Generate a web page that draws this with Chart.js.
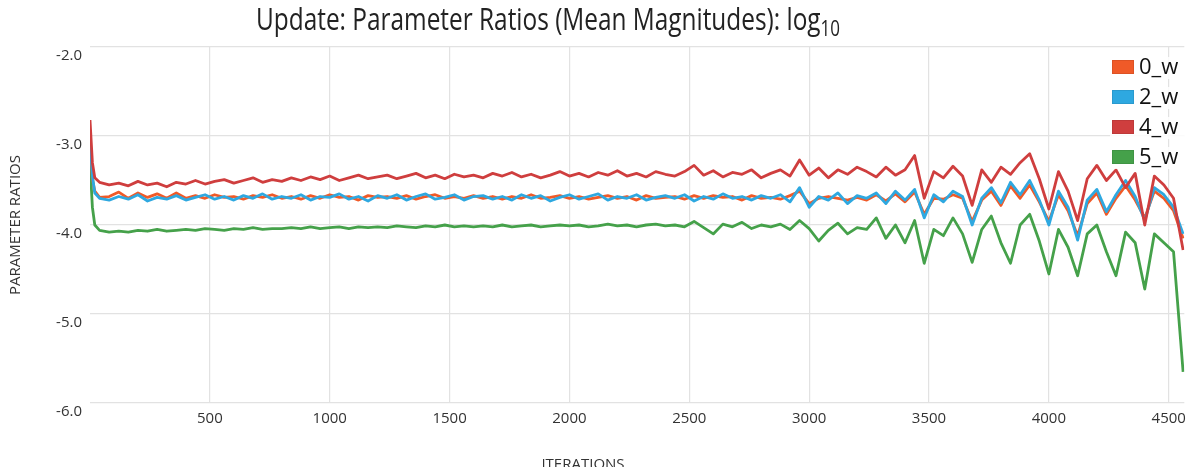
<!DOCTYPE html>
<html>
<head>
<meta charset="utf-8">
<script src="https://cdn.jsdelivr.net/npm/chart.js@4/dist/chart.umd.min.js"></script>
<style>
  html, body { margin: 0; padding: 0; background: #fff; }
  #chart { display: block; }
</style>
</head>
<body>
<canvas id="chart" width="1193" height="467"></canvas>
<script>
// x positions (iterations)
const iterations = [
    0, 10, 20,
    40, 80, 120, 160, 200, 240, 280, 320, 360, 400,
    440, 480, 520, 560, 600, 640, 680, 720, 760, 800,
    840, 880, 920, 960, 1000, 1040, 1080, 1120, 1160, 1200,
    1240, 1280, 1320, 1360, 1400, 1440, 1480, 1520, 1560, 1600,
    1640, 1680, 1720, 1760, 1800, 1840, 1880, 1920, 1960, 2000,
    2040, 2080, 2120, 2160, 2200, 2240, 2280, 2320, 2360, 2400,
    2440, 2480, 2520, 2560, 2600, 2640, 2680, 2720, 2760, 2800,
    2840, 2880, 2920, 2960, 3000, 3040, 3080, 3120, 3160, 3200,
    3240, 3280, 3320, 3360, 3400, 3440, 3480, 3520, 3560, 3600,
    3640, 3680, 3720, 3760, 3800, 3840, 3880, 3920, 3960, 4000,
    4040, 4080, 4120, 4160, 4200, 4240, 4280, 4320, 4360, 4400,
    4440, 4480, 4520, 4560
];

const w0 = [
    -3.05, -3.48, -3.62,
    -3.69, -3.68, -3.63, -3.70, -3.64, -3.69, -3.65, -3.70, -3.64, -3.70,
    -3.67, -3.70, -3.66, -3.69, -3.68, -3.71, -3.67, -3.69, -3.66, -3.70,
    -3.68, -3.71, -3.67, -3.70, -3.66, -3.69, -3.68, -3.72, -3.67, -3.69,
    -3.68, -3.70, -3.67, -3.71, -3.68, -3.66, -3.70, -3.68, -3.70, -3.67,
    -3.70, -3.68, -3.71, -3.68, -3.70, -3.66, -3.70, -3.69, -3.67, -3.70,
    -3.68, -3.71, -3.69, -3.67, -3.70, -3.68, -3.72, -3.67, -3.70, -3.69,
    -3.68, -3.71, -3.67, -3.70, -3.67, -3.69, -3.68, -3.72, -3.67, -3.70,
    -3.69, -3.71, -3.67, -3.62, -3.76, -3.70, -3.68, -3.70, -3.72, -3.69,
    -3.72, -3.66, -3.73, -3.65, -3.74, -3.63, -3.88, -3.70, -3.71, -3.66,
    -3.70, -3.96, -3.72, -3.62, -3.78, -3.56, -3.70, -3.55, -3.74, -3.96,
    -3.66, -3.84, -4.12, -3.76, -3.64, -3.88, -3.70, -3.56, -3.72, -3.92,
    -3.62, -3.70, -3.84, -4.15
];

const w2 = [
    -3.00, -3.45, -3.64,
    -3.70, -3.72, -3.68, -3.71, -3.66, -3.73, -3.69, -3.71, -3.67, -3.72,
    -3.69, -3.66, -3.71, -3.68, -3.72, -3.67, -3.70, -3.65, -3.71, -3.68,
    -3.70, -3.66, -3.72, -3.68, -3.69, -3.65, -3.71, -3.68, -3.73, -3.67,
    -3.70, -3.66, -3.72, -3.68, -3.65, -3.71, -3.69, -3.66, -3.72, -3.68,
    -3.67, -3.71, -3.68, -3.72, -3.66, -3.70, -3.67, -3.73, -3.69, -3.66,
    -3.71, -3.68, -3.65, -3.72, -3.68, -3.70, -3.66, -3.72, -3.69, -3.67,
    -3.70, -3.66, -3.73, -3.68, -3.71, -3.65, -3.70, -3.68, -3.72, -3.67,
    -3.70, -3.66, -3.74, -3.58, -3.80, -3.68, -3.72, -3.64, -3.76, -3.67,
    -3.70, -3.64, -3.76, -3.62, -3.72, -3.60, -3.92, -3.66, -3.74, -3.62,
    -3.68, -4.00, -3.70, -3.58, -3.75, -3.52, -3.66, -3.50, -3.72, -4.00,
    -3.62, -3.80, -4.17, -3.72, -3.60, -3.85, -3.66, -3.50, -3.68, -3.95,
    -3.58, -3.66, -3.80, -4.10
];

const w4 = [
    -2.82, -3.30, -3.47,
    -3.52, -3.55, -3.53, -3.56, -3.51, -3.55, -3.53, -3.57, -3.52, -3.54,
    -3.50, -3.54, -3.51, -3.49, -3.53, -3.50, -3.47, -3.52, -3.49, -3.51,
    -3.47, -3.50, -3.46, -3.49, -3.45, -3.50, -3.47, -3.44, -3.48, -3.46,
    -3.44, -3.48, -3.45, -3.42, -3.47, -3.44, -3.48, -3.43, -3.46, -3.44,
    -3.47, -3.42, -3.45, -3.41, -3.46, -3.43, -3.47, -3.44, -3.40, -3.45,
    -3.42, -3.46, -3.41, -3.44, -3.39, -3.45, -3.42, -3.46, -3.40, -3.43,
    -3.45, -3.40, -3.33, -3.44, -3.39, -3.46, -3.41, -3.43, -3.38, -3.47,
    -3.42, -3.38, -3.45, -3.27, -3.44, -3.36, -3.47, -3.38, -3.43, -3.35,
    -3.40, -3.46, -3.35, -3.44, -3.38, -3.22, -3.70, -3.40, -3.47, -3.34,
    -3.45, -3.78, -3.38, -3.52, -3.35, -3.43, -3.30, -3.20, -3.48, -3.82,
    -3.40, -3.62, -3.95, -3.48, -3.33, -3.50, -3.38, -3.58, -3.42, -4.00,
    -3.45, -3.55, -3.70, -4.28
];

const w5 = [
    -3.30, -3.80, -4.00,
    -4.06, -4.08, -4.07, -4.08, -4.06, -4.07, -4.05, -4.07, -4.06, -4.05,
    -4.06, -4.04, -4.05, -4.06, -4.04, -4.05, -4.03, -4.05, -4.04, -4.04,
    -4.03, -4.04, -4.02, -4.04, -4.03, -4.02, -4.04, -4.02, -4.03, -4.02,
    -4.03, -4.01, -4.02, -4.03, -4.01, -4.02, -4.00, -4.02, -4.01, -4.02,
    -4.01, -4.02, -4.00, -4.02, -4.01, -4.00, -4.02, -4.01, -4.00, -4.01,
    -4.00, -4.02, -4.01, -3.99, -4.01, -4.00, -4.02, -4.00, -3.99, -4.01,
    -4.00, -4.02, -3.96, -4.03, -4.10, -3.99, -4.02, -3.97, -4.04, -4.00,
    -4.02, -3.99, -4.05, -3.95, -4.04, -4.18, -4.06, -3.98, -4.10, -4.03,
    -4.05, -3.92, -4.15, -4.00, -4.20, -3.95, -4.43, -4.05, -4.12, -3.92,
    -4.10, -4.42, -4.05, -3.90, -4.20, -4.43, -4.00, -3.88, -4.18, -4.55,
    -4.05, -4.25, -4.57, -4.10, -4.00, -4.30, -4.57, -4.08, -4.20, -4.72,
    -4.10, -4.20, -4.30, -5.65
];

const seriesNames = ['0_w', '2_w', '4_w', '5_w'];
const seriesColors = ['#f05a28', '#2ea8e0', '#cf3e3e', '#45a14a'];
const seriesValues = [w0, w2, w4, w5];
// lower order = drawn on top: red over blue over orange, green at the back
const seriesOrder = [2, 1, 0, 3];

const xTicks = [0, 500, 1000, 1500, 2000, 2500, 3000, 3500, 4000, 4500];
const yTicks = [-6, -5, -4, -3, -2];

const FONT = "'Open Sans', sans-serif";
const TEXT = '#333';
const GRID = '#e2e2e2';

// title, axis titles and the boxed legend on top of the plot
const decorations = {
    id: 'decorations',
    afterDraw(chart) {
        const ctx = chart.ctx;
        ctx.save();
        ctx.fillStyle = '#222';

        // title with subscript
        const main = 'Update: Parameter Ratios (Mean Magnitudes): log';
        ctx.font = `24.4px ${FONT}`;
        const mainW = ctx.measureText(main).width;
        ctx.font = `17px ${FONT}`;
        const subW = ctx.measureText('10').width;
        let x0 = 548 - (mainW + subW) / 2;
        ctx.save();
        ctx.translate(x0, 30);
        ctx.scale(1, 1.28);
        ctx.textBaseline = 'alphabetic';
        ctx.font = `24.4px ${FONT}`;
        ctx.fillText(main, 0, 0);
        ctx.font = `17px ${FONT}`;
        ctx.fillText('10', mainW, 5);
        ctx.restore();

        // axis titles
        ctx.fillStyle = TEXT;
        ctx.font = `15px ${FONT}`;
        ctx.textAlign = 'center';
        ctx.textBaseline = 'alphabetic';
        ctx.fillText('ITERATIONS', 583, 469);

        ctx.save();
        ctx.translate(20, 225);
        ctx.rotate(-Math.PI / 2);
        ctx.fillText('PARAMETER RATIOS', 0, 0);
        ctx.restore();

        // legend
        ctx.textAlign = 'left';
        ctx.textBaseline = 'middle';
        ctx.font = `22px ${FONT}`;
        chart.data.datasets.forEach((ds, i) => {
            const cy = 67 + i * 30;
            ctx.fillStyle = 'rgba(255,255,255,0.85)';
            ctx.fillRect(1110, cy - 10, 76, 22);
            ctx.fillStyle = ds.borderColor;
            ctx.fillRect(1112, cy - 7, 22, 14);
            ctx.strokeStyle = 'rgba(0,0,0,0.08)';
            ctx.lineWidth = 1;
            ctx.strokeRect(1112.5, cy - 6.5, 21, 13);
            ctx.fillStyle = '#111';
            ctx.fillText(ds.label, 1139, cy + 1);
        });
        ctx.restore();
    }
};

const datasets = seriesNames.map((name, i) => ({
    label: name,
    data: iterations.map((it, j) => ({ x: it, y: seriesValues[i][j] })),
    borderColor: seriesColors[i],
    backgroundColor: seriesColors[i],
    borderWidth: 2.8,
    pointRadius: 0,
    tension: 0,
    borderJoinStyle: 'round',
    order: seriesOrder[i]
}));

new Chart(document.getElementById('chart'), {
    type: 'line',
    data: { datasets: datasets },
    options: {
        responsive: false,
        animation: false,
        layout: { padding: { top: 47, right: 8, bottom: 0, left: 0 } },
        plugins: {
            legend: { display: false },
            title: { display: false },
            tooltip: { enabled: false }
        },
        scales: {
            x: {
                type: 'linear',
                min: 0,
                max: 4565,
                afterFit(scale) { scale.height = 64; },
                afterBuildTicks(scale) { scale.ticks = xTicks.map(v => ({ value: v })); },
                border: { display: false },
                grid: {
                    drawTicks: false,
                    lineWidth: 1.2,
                    color: (c) => (c.tick && c.tick.value === 0 ? 'rgba(0,0,0,0)' : GRID)
                },
                ticks: {
                    autoSkip: false,
                    maxRotation: 0,
                    padding: 7,
                    color: TEXT,
                    font: { family: FONT, size: 15 },
                    callback: (v) => (v === 0 ? '' : String(v))
                }
            },
            y: {
                min: yTicks[0],
                max: yTicks[yTicks.length - 1],
                afterFit(scale) { scale.width = 90; },
                afterBuildTicks(scale) { scale.ticks = yTicks.map(v => ({ value: v })); },
                border: { display: false },
                grid: { drawTicks: false, lineWidth: 1.2, color: GRID },
                ticks: {
                    padding: 8,
                    labelOffset: 9,
                    color: TEXT,
                    font: { family: FONT, size: 15 },
                    callback: (v) => Number(v).toFixed(1)
                }
            }
        }
    },
    plugins: [decorations]
});
</script>
</body>
</html>
